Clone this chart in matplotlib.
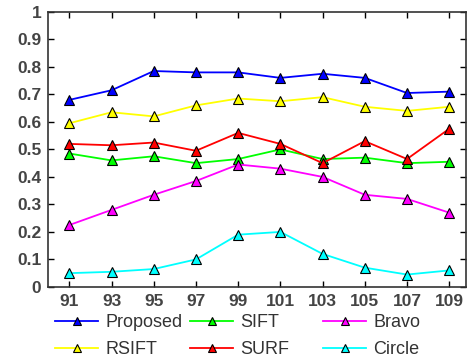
import matplotlib
matplotlib.use('Agg')
import matplotlib.pyplot as plt

# Data
x = [91, 93, 95, 97, 99, 101, 103, 105, 107, 109]
proposed = [0.68, 0.715, 0.785, 0.78, 0.78, 0.76, 0.775, 0.76, 0.705, 0.71]
rsift = [0.595, 0.635, 0.62, 0.66, 0.685, 0.675, 0.69, 0.655, 0.64, 0.655]
sift = [0.485, 0.46, 0.475, 0.45, 0.465, 0.50, 0.465, 0.47, 0.45, 0.455]
surf = [0.52, 0.515, 0.525, 0.495, 0.56, 0.52, 0.45, 0.53, 0.465, 0.575]
bravo = [0.225, 0.28, 0.335, 0.385, 0.445, 0.43, 0.40, 0.335, 0.32, 0.27]
circle = [0.05, 0.055, 0.065, 0.10, 0.19, 0.20, 0.12, 0.07, 0.045, 0.06]

plt.rcParams['font.family'] = ['Liberation Sans', 'DejaVu Sans']

fig = plt.figure(figsize=(4.68, 3.6), dpi=100)
ax = fig.add_axes([0.103, 0.203, 0.893, 0.764])

series = [
    ('Proposed', proposed, '#0000ff'),
    ('RSIFT', rsift, '#ffff00'),
    ('SIFT', sift, '#00ff00'),
    ('SURF', surf, '#ff0000'),
    ('Bravo', bravo, '#ff00ff'),
    ('Circle', circle, '#00ffff'),
]
handles = []
for name, vals, col in series:
    h, = ax.plot(x, vals, color=col, lw=1.3, marker='^', ms=6.5,
                 markerfacecolor=col, markeredgecolor='black', markeredgewidth=0.8,
                 label=name)
    handles.append(h)

ax.set_xlim(90, 109.8)
ax.set_ylim(0, 1)
ax.set_xticks(x)
ax.set_yticks([0, 0.1, 0.2, 0.3, 0.4, 0.5, 0.6, 0.7, 0.8, 0.9, 1])
ax.set_yticklabels(['0', '0.1', '0.2', '0.3', '0.4', '0.5', '0.6', '0.7', '0.8', '0.9', '1'])
ax.tick_params(direction='in', top=True, right=True, length=4, width=1,
               labelsize=12.5, labelcolor='#444444', pad=5)
for lab in ax.get_xticklabels() + ax.get_yticklabels():
    lab.set_fontweight('bold')
for sp in ax.spines.values():
    sp.set_linewidth(1.2)
    sp.set_color('#333333')

# legend: three columns placed by hand, two entries each
col_x = [55 / 468, 190 / 468, 323 / 468]
for i, cx in enumerate(col_x):
    leg = fig.legend(handles=handles[2 * i:2 * i + 2], loc='upper left',
                     bbox_to_anchor=(cx, 0.127), frameon=False, fontsize=13,
                     handlelength=2.4, handletextpad=0.4, labelspacing=0.55,
                     borderpad=0, borderaxespad=0, markerscale=0.85)
    for t in leg.get_texts():
        t.set_color('#333333')

fig.savefig('out.png', dpi=100)
